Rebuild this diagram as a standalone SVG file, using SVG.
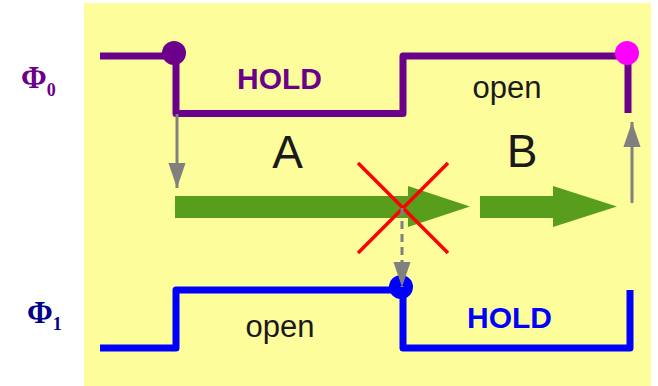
<svg xmlns="http://www.w3.org/2000/svg" width="658" height="386" viewBox="0 0 658 386">
<defs>
<style>
.sig{fill:none;stroke-width:7;stroke-linejoin:round;stroke-linecap:butt}
.lbl{font-family:"Liberation Sans",Arial,sans-serif;font-weight:bold;font-size:30px}
.txt{font-family:"Liberation Sans",Arial,sans-serif;fill:#1a1a1a}
.phi{font-family:"Liberation Serif","Times New Roman",serif;font-weight:bold}
.garr{stroke:#808080;stroke-width:3;fill:none}
.green{fill:#589e1c}
.cross{stroke:#ff0000;stroke-width:3.5}
</style>
<marker id="ah" viewBox="0 0 10 10" refX="10" refY="5" markerWidth="8.3" markerHeight="5.7" markerUnits="strokeWidth" orient="auto" preserveAspectRatio="none">
<path d="M0,0 L10,5 L0,10 Z" fill="#808080"/>
</marker>
</defs>
<rect x="84" y="3" width="567" height="383" fill="#fdfd9b"/>
<g id="phi0-label"><text class="phi" x="21" y="88" font-size="31" fill="#6b008b">Φ<tspan font-size="18" dy="8">0</tspan></text></g>
<g id="phi1-label"><text class="phi" x="27" y="323" font-size="31" fill="#00008b">Φ<tspan font-size="18" dy="7">1</tspan></text></g>
<g id="phi0-signal">
<path class="sig" stroke="#6b008b" d="M100,56 H176 V113.5 H403 V56 H628 V113"/>
<circle cx="174" cy="53" r="12" fill="#6b008b"/>
<circle cx="627" cy="53" r="12" fill="#ff00ff"/>
</g>
<g id="phi1-signal">
<path class="sig" stroke="#0000ff" d="M100,348 H176 V290 H403 V348 H630 V290"/>
<circle cx="401" cy="287" r="12" fill="#0000ff"/>
</g>
<g id="texts">
<text class="lbl" x="237" y="89" fill="#6b008b">HOLD</text>
<text class="txt" x="507" y="98" font-size="31" text-anchor="middle">open</text>
<text class="txt" x="280" y="337" font-size="31" text-anchor="middle">open</text>
<text class="lbl" x="467" y="328" fill="#0000ff">HOLD</text>
<text class="txt" x="287.5" y="168" font-size="46" text-anchor="middle">A</text>
<text class="txt" x="522" y="167" font-size="46" text-anchor="middle">B</text>
</g>
<g id="arrow-A"><path class="green" d="M175,196 H408 V186 L470,206.5 L408,227 V218 H175 Z"/></g>
<g id="arrow-B"><path class="green" d="M480,196 H553 V186 L617,206.5 L553,227 V218 H480 Z"/></g>
<g id="cross"><path class="cross" d="M358,163 L448,253 M448,163 L358,253"/></g>
<g id="connectors">
<line class="garr" x1="177" y1="114" x2="177" y2="188" marker-end="url(#ah)"/>
<line class="garr" x1="632" y1="203" x2="632" y2="122" marker-end="url(#ah)"/>
<line class="garr" x1="402" y1="208" x2="402" y2="287" stroke-dasharray="8,5" marker-end="url(#ah)"/>
</g>
</svg>
